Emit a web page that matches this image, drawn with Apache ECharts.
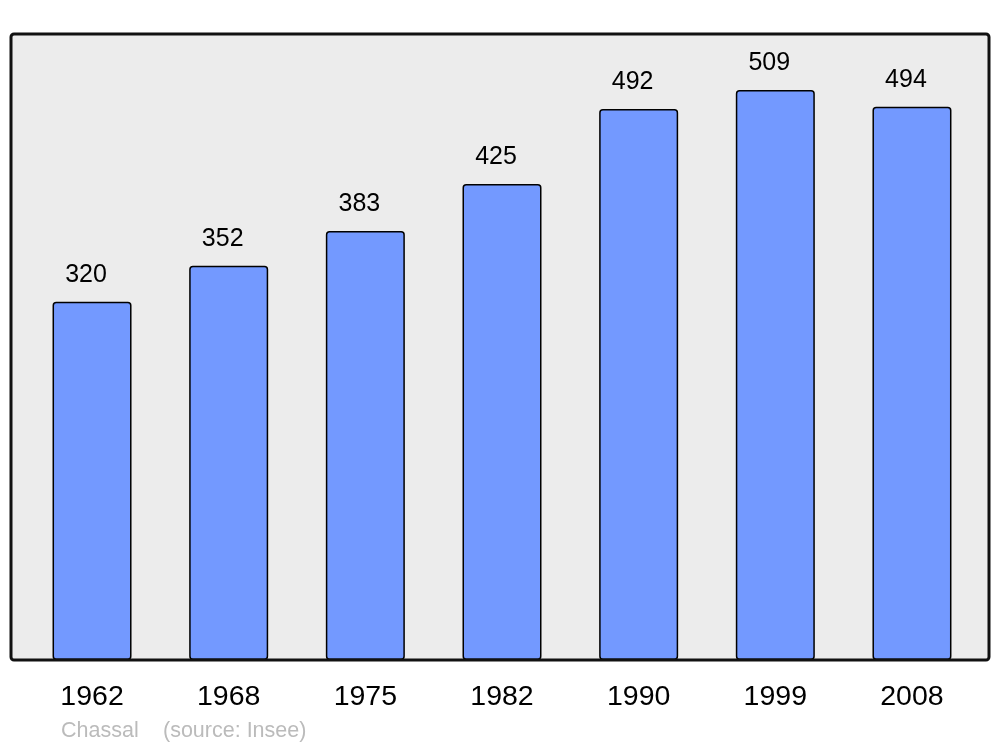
<!DOCTYPE html>
<html><head><meta charset="utf-8">
<script src="https://cdn.jsdelivr.net/npm/echarts@6/dist/echarts.min.js"></script>
<style>html,body{margin:0;padding:0;background:#fff}#c{width:1000px;height:747px}</style>
</head><body><div id="c"></div>
<script>
const years = ['1962','1968','1975','1982','1990','1999','2008'];
const population = [320, 352, 383, 425, 492, 509, 494];
const sourceLabel = 'Chassal';
const sourceNote = '(source: Insee)';

const chart = echarts.init(document.getElementById('c'), null, {renderer:'canvas'});
chart.setOption({
  animation: false,
  backgroundColor: '#ffffff',
  textStyle: {fontFamily: 'Liberation Sans, Arial, sans-serif'},
  grid: {left: 23.7, right: 19.7, top: 34, bottom: 87, containLabel: false},
  xAxis: {
    type: 'category', data: years,
    axisLine: {show: false}, axisTick: {show: false},
    axisLabel: {fontSize: 28.5, color: '#000', margin: 23, fontFamily: 'Liberation Sans'}
  },
  yAxis: {type: 'value', min: 0, max: 559, show: false, splitLine: {show: false}},
  graphic: [
    {type: 'rect', z: -10, shape: {x: 11, y: 34, width: 978, height: 626, r: 3},
     style: {fill: '#ececec', stroke: null}},
    {type: 'rect', z: 100, shape: {x: 11, y: 34, width: 978, height: 626, r: 3},
     style: {fill: null, stroke: '#111', lineWidth: 3}},
    {type: 'text', left: 61, top: 720, style: {text: sourceLabel, fill: '#bbbbbb', fontSize: 21.5, fontFamily: 'Liberation Sans'}},
    {type: 'text', left: 163, top: 720, style: {text: sourceNote, fill: '#bbbbbb', fontSize: 21.5, fontFamily: 'Liberation Sans'}}
  ],
  series: [{
    type: 'bar', data: population, barWidth: 79,
    itemStyle: {color: '#7399ff', borderColor: '#000', borderWidth: 1.5, borderRadius: 3},
    label: {show: true, position: 'top', distance: 14, offset: [-6, 0], fontSize: 25, color: '#000', fontFamily: 'Liberation Sans'}
  }]
});
</script></body></html>
